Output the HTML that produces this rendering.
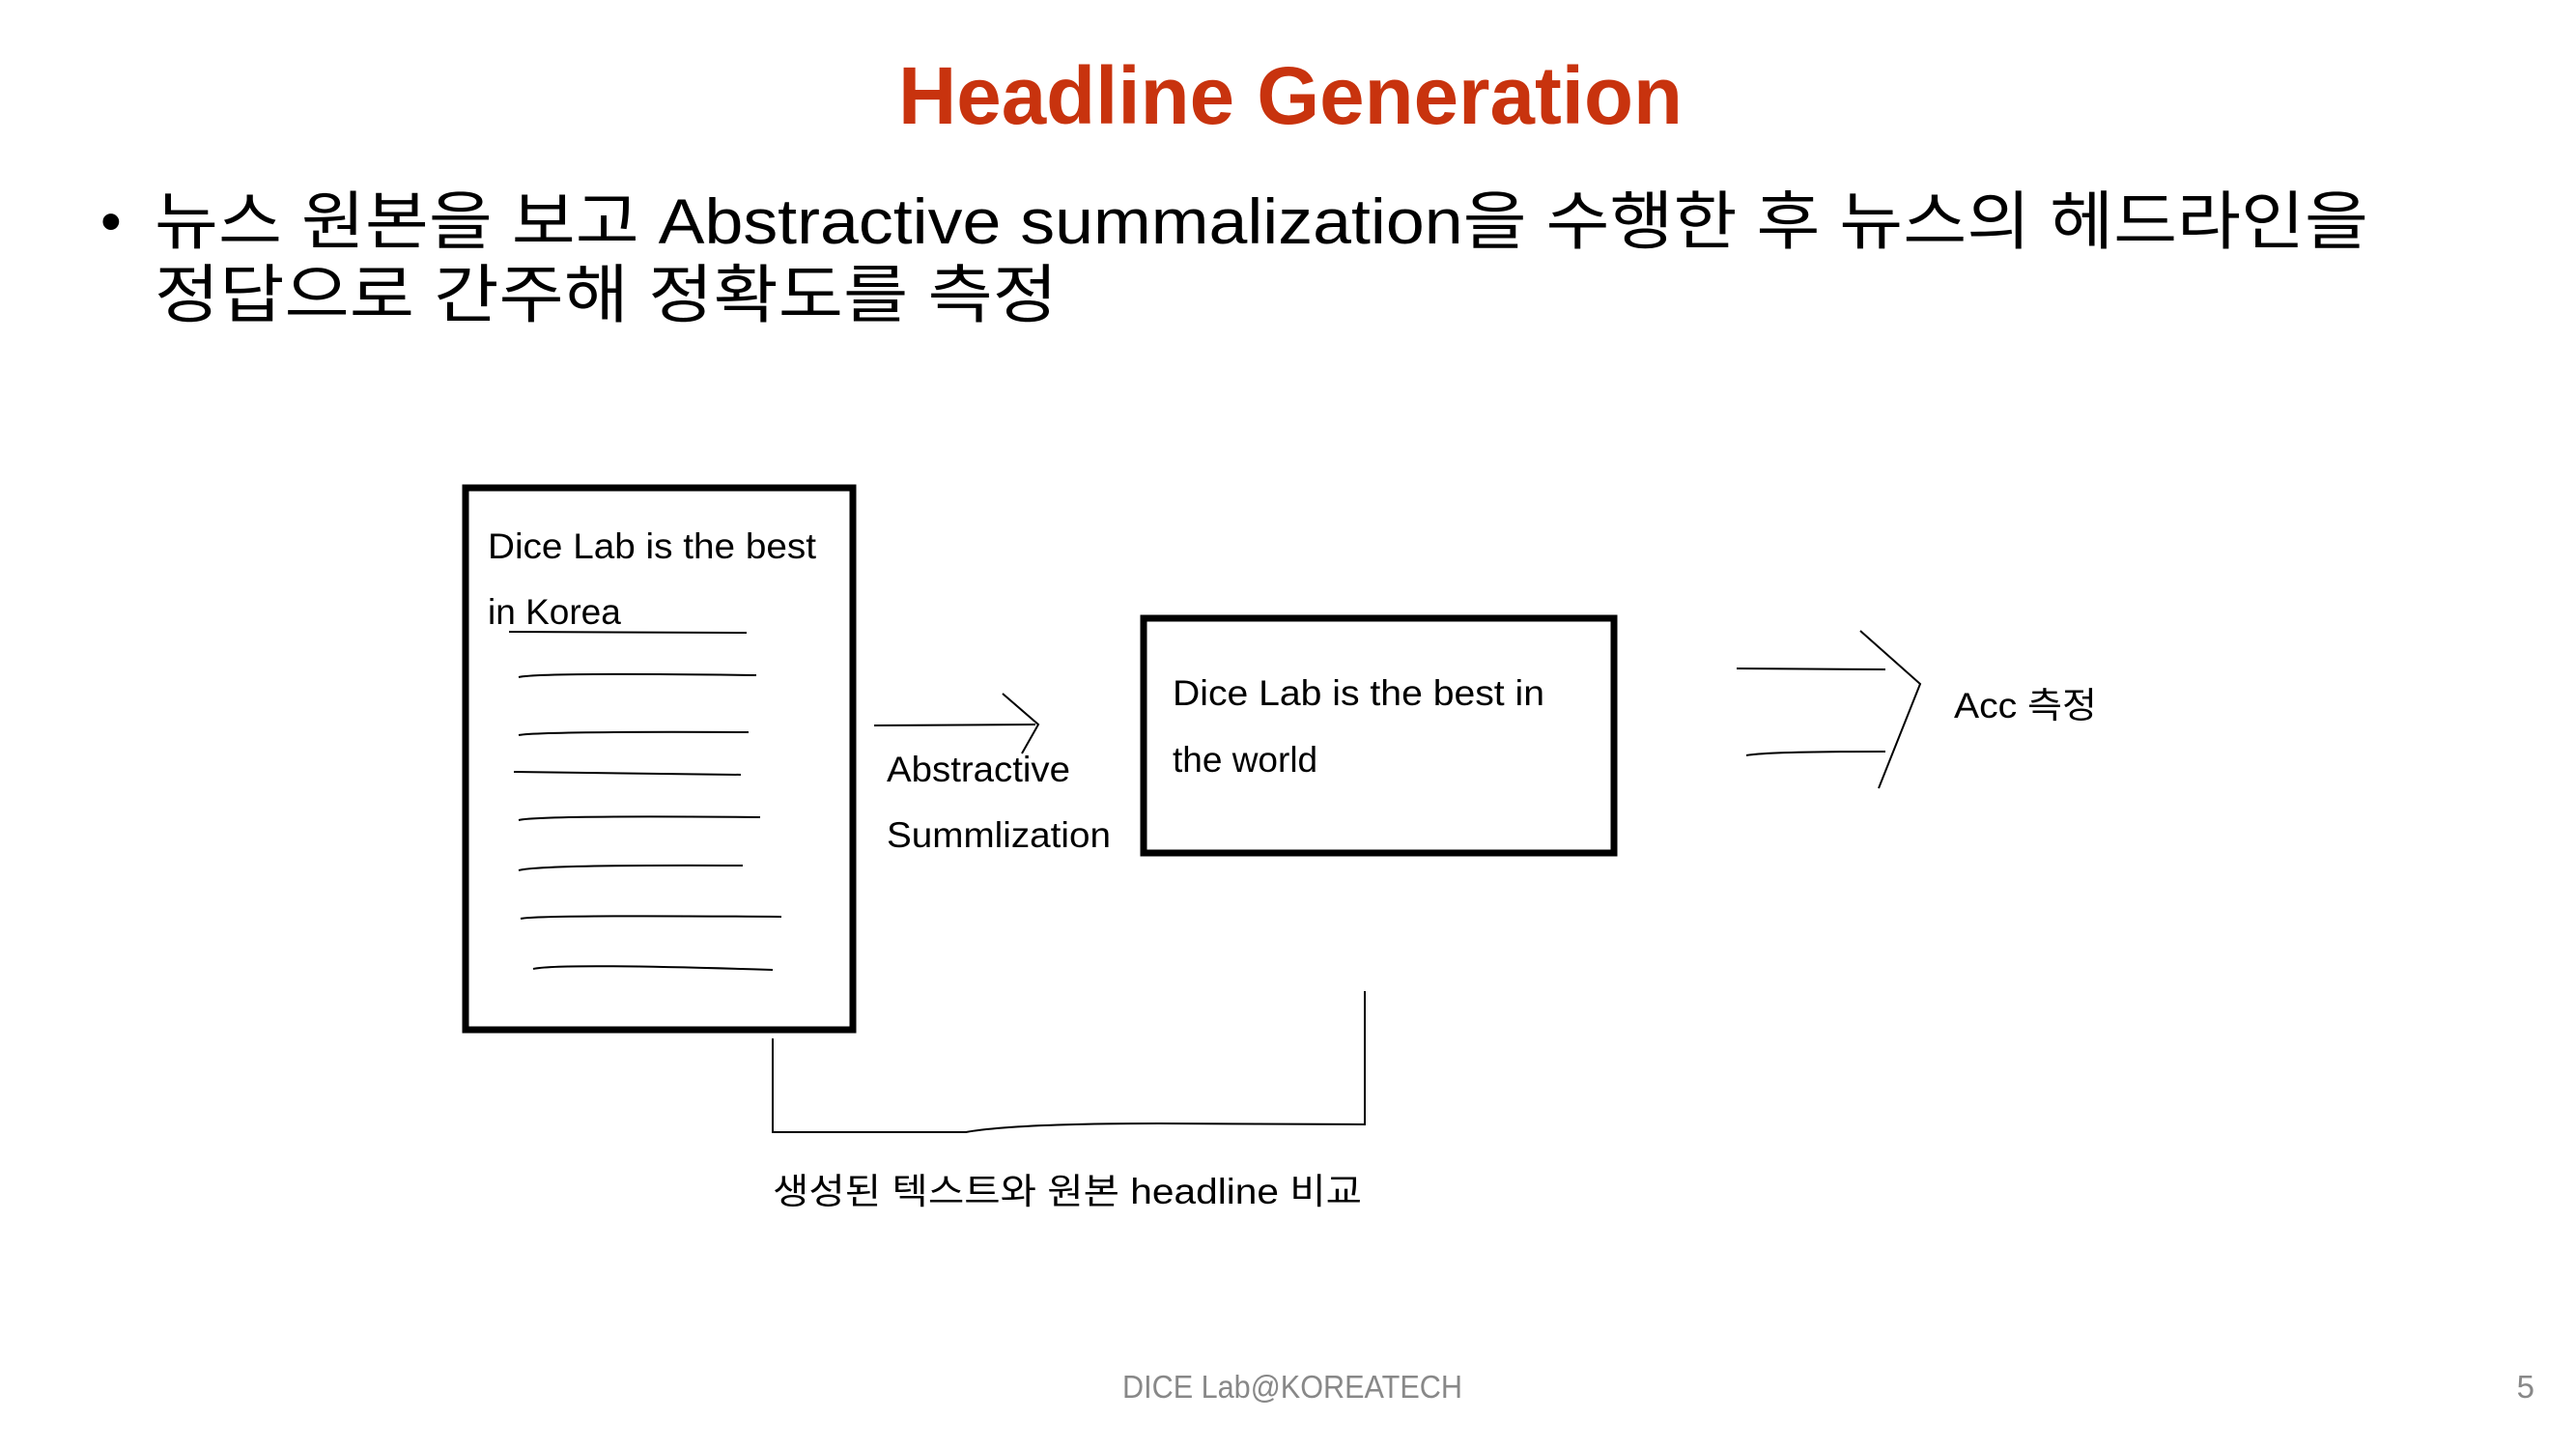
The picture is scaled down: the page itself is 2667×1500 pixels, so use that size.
<!DOCTYPE html>
<html><head><meta charset="utf-8"><style>
html,body{margin:0;padding:0;background:#fff;}
svg{display:block;}
text{font-family:"Liberation Sans","Noto Sans CJK KR",sans-serif;}
</style></head><body>
<svg width="2667" height="1500" viewBox="0 0 2667 1500" xmlns="http://www.w3.org/2000/svg">
<text x="1336" y="128" text-anchor="middle" font-size="84" font-weight="bold" fill="#C8330E" textLength="812" lengthAdjust="spacingAndGlyphs">Headline Generation</text>
<text x="104" y="250" font-size="62" fill="#000">•</text>
<text x="160" y="252" font-size="66" fill="#000" textLength="2292" lengthAdjust="spacingAndGlyphs">뉴스 원본을 보고 Abstractive summalization을 수행한 후 뉴스의 헤드라인을</text>
<text x="160" y="328" font-size="66" fill="#000" textLength="935" lengthAdjust="spacingAndGlyphs">정답으로 간주해 정확도를 측정</text>

<rect x="482" y="505" width="401" height="561" fill="none" stroke="#000" stroke-width="7"/>
<text x="505" y="578" font-size="37" textLength="340" lengthAdjust="spacingAndGlyphs">Dice Lab is the best</text>
<text x="505" y="646" font-size="37">in Korea</text>
<g stroke="#000" stroke-width="2" fill="none">
<path d="M527 654 L773 655"/>
<path d="M537 701 Q557 696 783 699"/>
<path d="M537 761 Q557 757 775 758"/>
<path d="M532 799 L767 802"/>
<path d="M537 849 Q557 844 787 846"/>
<path d="M537 901 Q557 895 769 896"/>
<path d="M539 951 Q557 947 809 949"/>
<path d="M552 1003 Q577 997 800 1004"/>
<path d="M905 751 L1072 750"/>
<path d="M1038 718 L1075 750 L1058 780"/>
<path d="M1798 692 L1952 693"/>
<path d="M1808 782 Q1830 778 1952 778"/>
<path d="M1926 653 L1988 708 L1945 816"/>
<path d="M800 1075 L800 1172 L1000 1172 Q1050 1163 1200 1163 L1413 1164 L1413 1026"/>
</g>
<text x="918" y="809" font-size="37" textLength="190" lengthAdjust="spacingAndGlyphs">Abstractive</text>
<text x="918" y="877" font-size="37" textLength="232" lengthAdjust="spacingAndGlyphs">Summlization</text>
<rect x="1184" y="640" width="487" height="243" fill="none" stroke="#000" stroke-width="7"/>
<text x="1214" y="730" font-size="37" textLength="385" lengthAdjust="spacingAndGlyphs">Dice Lab is the best in</text>
<text x="1214" y="799" font-size="37">the world</text>
<text x="2023" y="743" font-size="37" textLength="148" lengthAdjust="spacingAndGlyphs">Acc 측정</text>
<text x="800" y="1246" font-size="37" textLength="610" lengthAdjust="spacingAndGlyphs">생성된 텍스트와 원본 headline 비교</text>
<text x="1338" y="1447" text-anchor="middle" font-size="33" fill="#888" textLength="352" lengthAdjust="spacingAndGlyphs">DICE Lab@KOREATECH</text>
<text x="2624" y="1447" text-anchor="end" font-size="33" fill="#888">5</text>
</svg>
</body></html>
